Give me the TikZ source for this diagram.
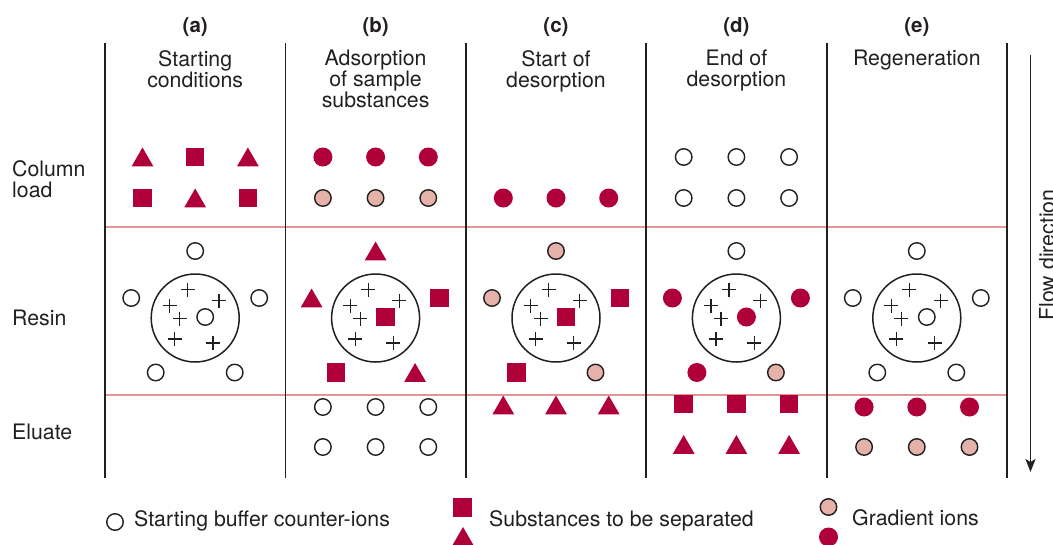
\documentclass[tikz,border=0pt]{standalone}
\usepackage{fontspec}
\setmainfont{TeX Gyre Heros}
\usetikzlibrary{shapes.geometric,arrows.meta}

\definecolor{crimson}{RGB}{176,0,58}
\definecolor{salmon}{RGB}{228,178,168}
\definecolor{rowrule}{RGB}{226,150,146}
\definecolor{ink}{RGB}{35,31,32}

\tikzset{
  txt/.style={text=ink,inner sep=0pt,font=\fontsize{21.3}{21}\selectfont},
  head/.style={txt,font=\fontsize{20.5}{21}\selectfont\bfseries,anchor=base},
  lab/.style={txt,align=center,anchor=north},
  ring/.style={circle,inner sep=0pt,minimum size=16.5pt,draw=ink,line width=1.4pt},
  buf/.style={ring,fill=white},
  grad/.style={ring,fill=salmon},
  gion/.style={circle,inner sep=0pt,minimum size=19pt,fill=crimson},
  sq/.style={rectangle,inner sep=0pt,minimum size=18.5pt,fill=crimson},
  tri/.style={regular polygon,regular polygon sides=3,inner sep=0pt,
              minimum size=25pt,fill=crimson,yshift=-3pt},
  bead/.style={circle,inner sep=0pt,minimum size=88pt,draw=ink,line width=1.5pt},
  charge/.style={draw=ink,line width=1.2pt},
  divider/.style={draw=ink,line width=1.8pt},
  band/.style={draw=rowrule,line width=1.5pt},
}

% three symbols in a row: name prefix, centre x, y, list of styles
\newcommand\ionrow[4]{%
  \foreach \s [count=\k] in {#4} {
    \node[\s] (#1-\k) at ({#2+(\k-2)*52.7},#3) {};
  }%
}

% resin bead with fixed charges, five surrounding ions and one bound ion
\newcommand\resinbead[8]{%
  \node[bead] (#1-bead) at (#2,318) {};
  \foreach \dx/\dy in {-7.5/-28.3,-25.5/-12.3,23.8/-17.3,-15.5/0.7,-20.5/21,17.8/25} {
    \draw[charge] ({#2+\dx-7},{318+\dy}) -- ++(14,0)
                  ({#2+\dx},{318+\dy-7}) -- ++(0,14);
  }
  \node[#3] (#1-top) at (#2,251) {};
  \node[#4] (#1-left) at ({#2-64},298) {};
  \node[#5] (#1-right) at ({#2+64},298) {};
  \node[#6] (#1-bl) at ({#2-39.5},372.5) {};
  \node[#7] (#1-br) at ({#2+39.5},372.5) {};
  \node[#8] (#1-core) at ({#2+10},317) {};
}

\begin{document}
\begin{tikzpicture}[x=1pt,y=-1pt]
\useasboundingbox (0,0) rectangle (1053,544);
\clip (0,0) rectangle (1053,544);

% row separators
\foreach \yy [count=\r] in {227,395} {
  \coordinate (bandL\r) at (105,\yy);
  \coordinate (bandR\r) at (1007,\yy);
  \draw[band] (bandL\r) -- (bandR\r);
}
% column separators
\foreach \j in {0,...,5} {
  \coordinate (colT\j) at ({105+180.4*\j},43);
  \coordinate (colB\j) at ({105+180.4*\j},478);
  \draw[divider] (colT\j) -- (colB\j);
}

% column headings
\node[head] (ha) at (195.2,32) {(a)};
\node[head] (hb) at (375.6,32) {(b)};
\node[head] (hc) at (556.0,32) {(c)};
\node[head] (hd) at (736.4,32) {(d)};
\node[head] (he) at (916.8,32) {(e)};
\node[lab] (la) at (195.2,50) {Starting\\conditions};
\node[lab] (lb) at (375.6,50) {Adsorption\\of sample\\substances};
\node[lab] (lc) at (556.0,50) {Start of\\desorption};
\node[lab] (ld) at (736.4,50) {End of\\desorption};
\node[lab] (le) at (916.8,50) {Regeneration};

% row labels
\node[txt,align=left,anchor=north west] (rload) at (12,160.5) {Column\\load};
\node[txt,anchor=base west] (rresin) at (12,325) {Resin};
\node[txt,anchor=base west] (relu) at (12,439) {Eluate};

% column load
\ionrow{a-load1}{195.2}{157}{tri,sq,tri}
\ionrow{a-load2}{195.2}{198}{sq,tri,sq}
\ionrow{b-load1}{375.6}{157}{gion,gion,gion}
\ionrow{b-load2}{375.6}{198}{grad,grad,grad}
\ionrow{c-load2}{556.0}{198}{gion,gion,gion}
\ionrow{d-load1}{736.4}{157}{buf,buf,buf}
\ionrow{d-load2}{736.4}{198}{buf,buf,buf}

% resin
\resinbead{a}{195.2}{buf}{buf}{buf}{buf}{buf}{buf}
\resinbead{b}{375.6}{tri}{tri}{sq}{sq}{tri}{sq}
\resinbead{c}{556.0}{grad}{grad}{sq}{sq}{grad}{sq}
\resinbead{d}{736.4}{buf}{gion}{gion}{gion}{grad}{gion}
\resinbead{e}{916.8}{buf}{buf}{buf}{buf}{buf}{buf}

% eluate
\ionrow{b-elu1}{375.6}{407}{buf,buf,buf}
\ionrow{b-elu2}{375.6}{447}{buf,buf,buf}
\ionrow{c-elu1}{556.0}{405}{tri,tri,tri}
\ionrow{d-elu1}{736.4}{404}{sq,sq,sq}
\ionrow{d-elu2}{736.4}{444.5}{tri,tri,tri}
\ionrow{e-elu1}{916.8}{407}{gion,gion,gion}
\ionrow{e-elu2}{916.8}{447}{grad,grad,grad}

% flow direction
\coordinate (flowtop) at (1030.5,55);
\coordinate (flowend) at (1030.5,472);
\draw[ink,line width=1.8pt,-{Stealth[length=13pt,width=10pt,inset=3pt]}] (flowtop) -- (flowend);
\node[txt,rotate=90,anchor=base] (flowlab) at (1054.5,255) {Flow direction};

% key
\node[buf] (kbuf) at (115,522) {};
\node[txt,anchor=base west] (kbuft) at (134,526) {Starting buffer counter-ions};
\node[sq] (ksq) at (462.5,507.5) {};
\node[tri] (ktri) at (463,536.5) {};
\node[txt,anchor=base west] (ksubt) at (489,526) {Substances to be separated};
\node[grad] (kgrad) at (828.5,507) {};
\node[gion] (kgion) at (828.5,537) {};
\node[txt,anchor=base west] (kgradt) at (852,525.5) {Gradient ions};
\end{tikzpicture}
\end{document}
